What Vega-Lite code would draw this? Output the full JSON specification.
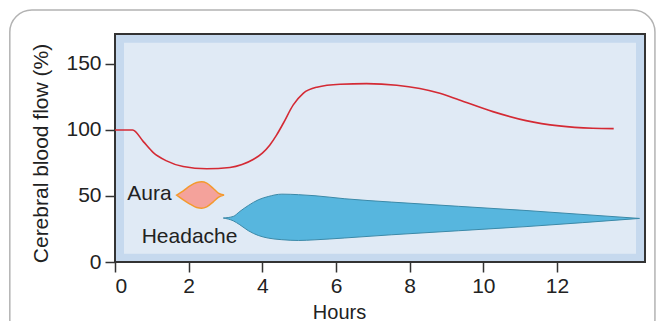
{
  "$schema": "https://vega.github.io/schema/vega-lite/v6.json",
  "autosize": "none",
  "width": 530,
  "height": 228,
  "padding": {"left": 115, "top": 34, "right": 11, "bottom": 59},
  "background": "white",
  "config": {
    "view": {"stroke": "#333333", "strokeWidth": 2, "fill": "#c6d9ee"},
    "axis": {
      "labelFont": "Liberation Sans",
      "labelFontSize": 21,
      "labelColor": "#222222",
      "tickColor": "#333333",
      "tickSize": 10,
      "tickWidth": 1.5,
      "labelPadding": 4,
      "domain": false,
      "grid": false,
      "titleFont": "Liberation Sans",
      "titleFontSize": 20,
      "titleFontWeight": "normal",
      "titleColor": "#222222"
    },
    "axisX": {"titleX": 224, "titleY": 56, "titleAlign": "center", "titleBaseline": "alphabetic", "labelPadding": 3},
    "axisY": {"titleX": -68, "titleY": 119, "titleAlign": "center", "titleBaseline": "alphabetic", "titleAngle": -90, "titleFontSize": 21, "labelPadding": 4}
  },
  "datasets": {
    "flow": [
      {"h": 0, "v": 100}, {"h": 0.48, "v": 100}, {"h": 0.77, "v": 91.2}, {"h": 1.04, "v": 82.9},
      {"h": 1.4, "v": 76.6}, {"h": 1.85, "v": 72.3}, {"h": 2.49, "v": 70.6}, {"h": 3.12, "v": 71.6},
      {"h": 3.45, "v": 73.8}, {"h": 3.75, "v": 77.6}, {"h": 4.0, "v": 82.5}, {"h": 4.2, "v": 88.5},
      {"h": 4.39, "v": 96.3}, {"h": 4.57, "v": 105.1}, {"h": 4.84, "v": 119}, {"h": 5.11, "v": 127.8},
      {"h": 5.48, "v": 132.4}, {"h": 6.11, "v": 134.6}, {"h": 6.83, "v": 135.1}, {"h": 7.65, "v": 133.9},
      {"h": 8.82, "v": 127.8}, {"h": 9.35, "v": 122.7}, {"h": 10.26, "v": 113.9}, {"h": 11.16, "v": 107.1},
      {"h": 12.06, "v": 103.1}, {"h": 12.97, "v": 101.3}, {"h": 13.54, "v": 101}
    ],
    "aura": [
      {"h": 1.675, "top": 50.7, "bot": 50.7},
      {"h": 1.855, "top": 53.9, "bot": 47.1},
      {"h": 2.036, "top": 57.7, "bot": 43.9},
      {"h": 2.218, "top": 60.2, "bot": 41.3},
      {"h": 2.354, "top": 60.7, "bot": 40.8},
      {"h": 2.49, "top": 59.7, "bot": 41.8},
      {"h": 2.669, "top": 55.7, "bot": 45.6},
      {"h": 2.805, "top": 52.2, "bot": 48.9},
      {"h": 2.96, "top": 50.7, "bot": 50.7}
    ],
    "headache": [
      {"h": 2.94, "top": 33.3, "bot": 33.3},
      {"h": 3.21, "top": 34.5, "bot": 31.2},
      {"h": 3.39, "top": 38.3, "bot": 28.2},
      {"h": 3.62, "top": 42.8, "bot": 23.7},
      {"h": 3.89, "top": 47.1, "bot": 20.1},
      {"h": 4.16, "top": 49.6, "bot": 18.1},
      {"h": 4.53, "top": 51.4, "bot": 16.9},
      {"h": 4.98, "top": 51.0, "bot": 16.3},
      {"h": 5.43, "top": 50.2, "bot": 16.8},
      {"h": 6.24, "top": 47.9, "bot": 18.2},
      {"h": 7.5, "top": 45.4, "bot": 20.6},
      {"h": 11.16, "top": 39.0, "bot": 26.8},
      {"h": 14.24, "top": 33, "bot": 33}
    ],
    "labels": [
      {"label": "Aura", "h": 0.333, "v": 46.6},
      {"label": "Headache", "h": 0.725, "v": 14.4}
    ]
  },
  "layer": [
    {
      "data": {"values": [{}]},
      "mark": {"type": "rect", "fill": "#e0eaf5"},
      "encoding": {
        "x": {"datum": 0.244, "type": "quantitative", "scale": {"domain": [0, 14.39], "nice": false, "zero": false},
          "axis": {"values": [0, 2, 4, 6, 8, 10, 12], "title": "Hours"}},
        "x2": {"datum": 14.146},
        "y": {"datum": 6.3, "type": "quantitative", "scale": {"domain": [0, 172.7], "nice": false, "zero": false},
          "axis": {"values": [0, 50, 100, 150], "title": "Cerebral blood flow (%)"}},
        "y2": {"datum": 166.1}
      }
    },
    {
      "data": {"values": [{}]},
      "mark": {"type": "rect", "filled": false, "stroke": "#b3b3b3", "strokeWidth": 1.5, "cornerRadius": 22, "clip": false},
      "encoding": {
        "x": {"datum": -2.856, "type": "quantitative", "scale": {"domain": [0, 14.39], "nice": false, "zero": false},
          "axis": {"values": [0, 2, 4, 6, 8, 10, 12], "title": "Hours"}},
        "x2": {"datum": 14.66},
        "y": {"datum": 190.8, "type": "quantitative", "scale": {"domain": [0, 172.7], "nice": false, "zero": false},
          "axis": {"values": [0, 50, 100, 150], "title": "Cerebral blood flow (%)"}},
        "y2": {"datum": -60}
      }
    },
    {
      "data": {"name": "flow"},
      "mark": {"type": "line", "interpolate": "monotone", "color": "#d42a34", "strokeWidth": 1.6},
      "encoding": {
        "x": {"field": "h", "type": "quantitative", "scale": {"domain": [0, 14.39], "nice": false, "zero": false},
          "axis": {"values": [0, 2, 4, 6, 8, 10, 12], "title": "Hours"}},
        "y": {"field": "v", "type": "quantitative", "scale": {"domain": [0, 172.7], "nice": false, "zero": false},
          "axis": {"values": [0, 50, 100, 150], "title": "Cerebral blood flow (%)"}}
      }
    },
    {
      "data": {"name": "aura"},
      "mark": {"type": "area", "interpolate": "monotone", "fill": "#f4a29b", "stroke": "#f39a2e", "strokeWidth": 1.5},
      "encoding": {
        "x": {"field": "h", "type": "quantitative", "scale": {"domain": [0, 14.39], "nice": false, "zero": false},
          "axis": {"values": [0, 2, 4, 6, 8, 10, 12], "title": "Hours"}},
        "y": {"field": "top", "type": "quantitative", "scale": {"domain": [0, 172.7], "nice": false, "zero": false},
          "axis": {"values": [0, 50, 100, 150], "title": "Cerebral blood flow (%)"}},
        "y2": {"field": "bot"}
      }
    },
    {
      "data": {"name": "headache"},
      "mark": {"type": "area", "interpolate": "monotone", "fill": "#57b6de", "stroke": "#3b89a8", "strokeWidth": 1},
      "encoding": {
        "x": {"field": "h", "type": "quantitative", "scale": {"domain": [0, 14.39], "nice": false, "zero": false},
          "axis": {"values": [0, 2, 4, 6, 8, 10, 12], "title": "Hours"}},
        "y": {"field": "top", "type": "quantitative", "scale": {"domain": [0, 172.7], "nice": false, "zero": false},
          "axis": {"values": [0, 50, 100, 150], "title": "Cerebral blood flow (%)"}},
        "y2": {"field": "bot"}
      }
    },
    {
      "data": {"name": "labels"},
      "mark": {"type": "text", "align": "left", "baseline": "alphabetic", "fontSize": 21, "font": "Liberation Sans", "color": "#222222"},
      "encoding": {
        "x": {"field": "h", "type": "quantitative", "scale": {"domain": [0, 14.39], "nice": false, "zero": false},
          "axis": {"values": [0, 2, 4, 6, 8, 10, 12], "title": "Hours"}},
        "y": {"field": "v", "type": "quantitative", "scale": {"domain": [0, 172.7], "nice": false, "zero": false},
          "axis": {"values": [0, 50, 100, 150], "title": "Cerebral blood flow (%)"}},
        "text": {"field": "label"}
      }
    }
  ]
}
